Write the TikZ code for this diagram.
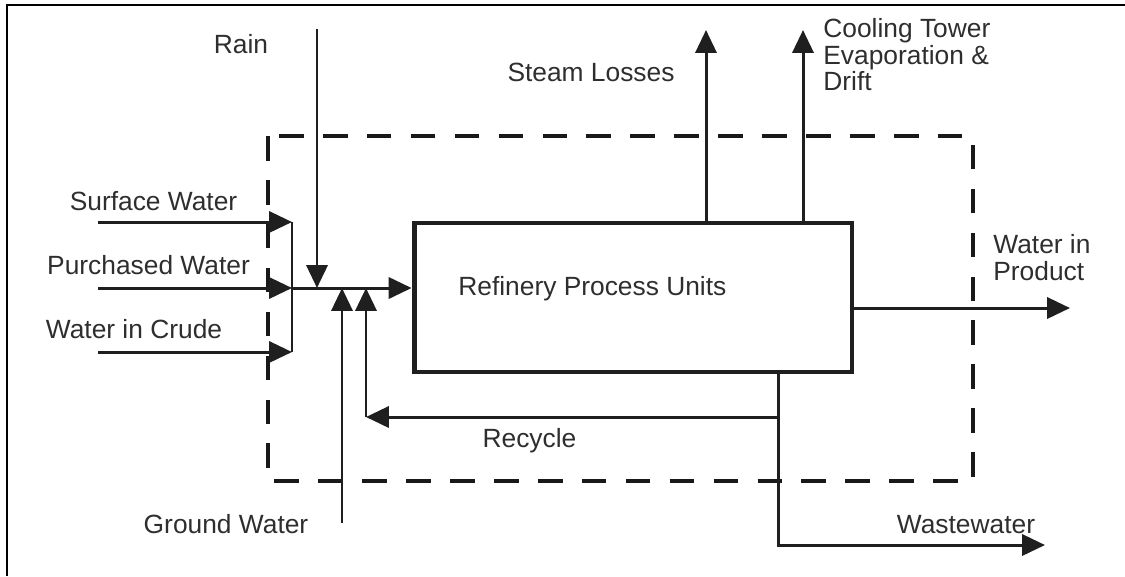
\documentclass[tikz,border=0pt]{standalone}
\usepackage{fontspec}
\setmainfont{Liberation Sans}
\usetikzlibrary{arrows.meta}

\begin{document}
\begin{tikzpicture}[
x=0.02cm, y=-0.02cm,
font=\fontsize{15}{15.2}\selectfont,
flow/.style={-{Triangle[length=13pt,width=12pt]}, line width=1.7pt, draw=black!88},
pipe/.style={line width=1.7pt, draw=black!88},
unit/.style={draw=black!88, line width=2.8pt, minimum width=8.76cm, minimum height=2.98cm, inner sep=0pt},
boundary/.style={draw=black!90, line width=2.3pt, dash pattern=on 14pt off 11pt},
tag/.style={text=black!82, inner sep=0pt}
]
\useasboundingbox (0,0) rectangle (1125,576);
\draw[line width=1.5pt] (7,576) -- (7,5) -- (1125,5);

% plant boundary
\draw[boundary] (268,136) rectangle (973,481);

\node[unit] (units) at (633,297.5) {};
\node[tag, anchor=base west] (unitsname) at (458,295) {Refinery Process Units};

% junction points and free ends
\coordinate (mix) at (292,288);
\coordinate (surfIn) at (98,222);
\coordinate (buyIn) at (98,288);
\coordinate (crudeIn) at (98,352);
\coordinate (rainIn) at (317,29);
\coordinate (groundIn) at (342,523);
\coordinate (recycleUp) at (366,417);
\coordinate (split) at (778,417);
\coordinate (steamOut) at (706,30);
\coordinate (coolOut) at (803,30);
\coordinate (productOut) at (1070,308);
\coordinate (wasteOut) at (1045,545);

\node[tag, anchor=base] (rain) at (241,53) {Rain};
\node[tag, anchor=base] (surf) at (153.5,210) {Surface Water};
\node[tag, anchor=base] (buy) at (148.5,274) {Purchased Water};
\node[tag, anchor=base] (crude) at (134,338) {Water in Crude};
\node[tag, anchor=base] (steam) at (591,81) {Steam Losses};
\node[tag, anchor=north west, align=left] (cool) at (823,18) {Cooling Tower\\Evaporation \&\\Drift};
\node[tag, anchor=north west, align=left] (product) at (993,234) {Water in\\Product};
\node[tag, anchor=base] (recycle) at (529.5,447) {Recycle};
\node[tag, anchor=base] (ground) at (226,533) {Ground Water};
\node[tag, anchor=base] (waste) at (966,533) {Wastewater};

% inflows
\draw[flow] (surfIn) -- (surfIn -| mix);
\draw[flow] (buyIn) -- (mix);
\draw[flow] (crudeIn) -- (crudeIn -| mix);
\draw[pipe] (surfIn -| mix) -- (crudeIn -| mix);
\draw[flow] (mix) -- (units.west |- mix);
\draw[flow] (rainIn) -- (rainIn |- mix);
\draw[flow] (groundIn) -- (groundIn |- mix);

% outflows
\draw[flow] (steamOut |- units.north) -- (steamOut);
\draw[flow] (coolOut |- units.north) -- (coolOut);
\draw[flow] (units.east |- productOut) -- (productOut);
\draw[flow] (split |- units.south) |- (wasteOut);

% recycle loop
\draw[flow] (split) -- (recycleUp);
\draw[flow] (recycleUp) -- (recycleUp |- mix);
\end{tikzpicture}
\end{document}
